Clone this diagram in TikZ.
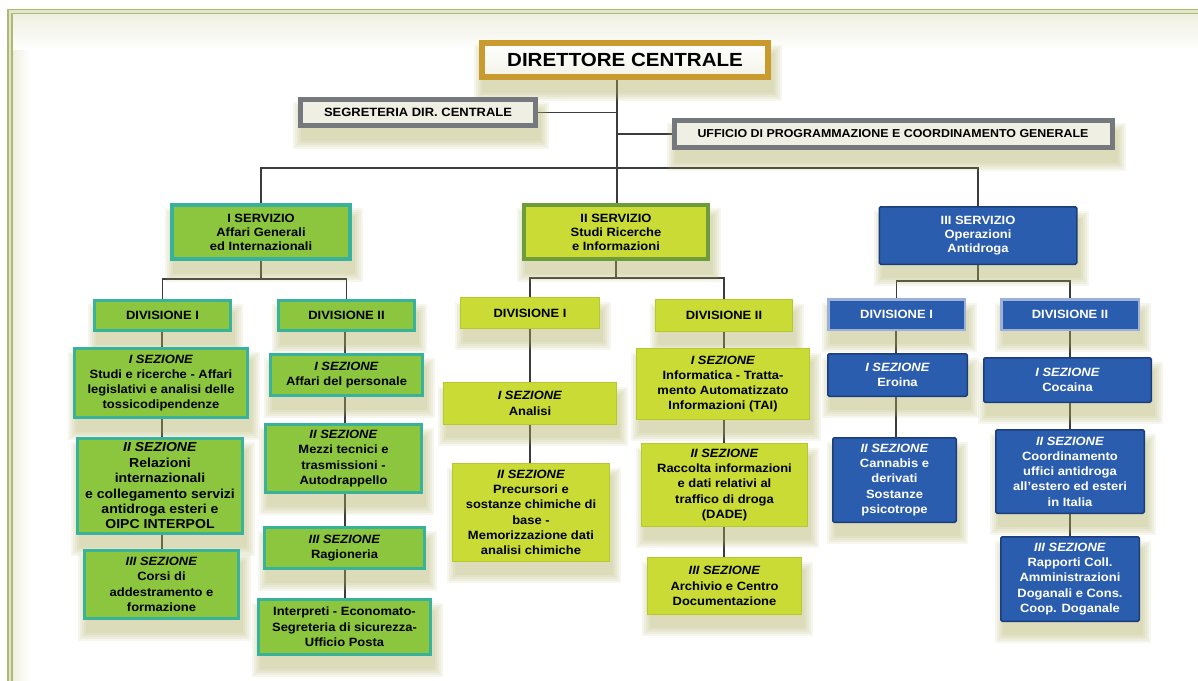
\documentclass[tikz,border=0pt]{standalone}
\usepackage{fontspec}
\setmainfont{Liberation Sans}[FakeStretch=1.08]
\usetikzlibrary{backgrounds}
\pgfdeclarelayer{shadow}
\pgfsetlayers{background,shadow,main}
\definecolor{gfill}{HTML}{8CC63E}
\definecolor{gbord}{HTML}{38B29A}
\definecolor{yfill}{HTML}{CADB36}
\definecolor{ybord}{HTML}{B4C92E}
\definecolor{ysbord}{HTML}{6E9C3A}
\definecolor{bfill}{HTML}{2B5DAE}
\definecolor{bbord}{HTML}{1C3D7C}
\definecolor{bdivbord}{HTML}{9DB0DA}
\definecolor{dirbord}{HTML}{C99A2E}
\definecolor{dirfill}{HTML}{F4F3E8}
\definecolor{grbord}{HTML}{75787C}
\definecolor{grfill}{HTML}{EFEFE4}
\definecolor{linec}{HTML}{3C3C3C}
\definecolor{framec}{HTML}{B0B878}
\definecolor{framel}{HTML}{E2E6C8}
\definecolor{bandc}{HTML}{EFEFE0}
\definecolor{shc}{HTML}{B0B060}
\tikzset{
  box/.style={rectangle, inner sep=1pt, align=center, text=black,
              font=\bfseries\fontsize{12}{15.3}\selectfont},
  gbox/.style={box, fill=gfill, draw=gbord, line width=3pt},
  ybox/.style={box, fill=yfill, draw=ybord, line width=1.2pt},
  ysbox/.style={box, fill=yfill, draw=ysbord, line width=4pt},
  bbox/.style={box, fill=bfill, draw=bbord, line width=1.5pt, text=white, rounded corners=1.5pt},
  bdiv/.style={box, fill=bfill, draw=bdivbord, line width=2.5pt, text=white},
  servfont/.style={font=\bfseries\fontsize{12}{14}\selectfont},
  dirbox/.style={box, draw=dirbord, line width=6pt, top color=white, bottom color=dirfill, font=\bfseries\fontsize{19}{22}\selectfont},
  grbox/.style={box, fill=grfill, draw=grbord, line width=5pt},
  conn/.style={draw=linec, line width=1.3pt},
  shadefill/.style={fill=shc, opacity=0.1},
}
\begin{document}
\begin{tikzpicture}[x=1pt,y=-1pt]
\useasboundingbox (0,0) rectangle (1198,680);

% top level
\node[dirbox, minimum width=286, minimum height=34] (dir) at (625,60) {DIRETTORE CENTRALE};
\node[grbox, minimum width=235, minimum height=26, font=\bfseries\fontsize{12}{14}\selectfont] (seg) at (418,112.5) {SEGRETERIA DIR. CENTRALE};
\node[grbox, minimum width=438, minimum height=27, font=\bfseries\fontsize{11.5}{14}\selectfont] (uff) at (893,134) {UFFICIO DI PROGRAMMAZIONE E COORDINAMENTO GENERALE};

% servizi
\node[gbox, servfont, line width=4pt, minimum width=178, minimum height=54] (s1) at (261,232) {I SERVIZIO\\Affari Generali\\ed Internazionali};
\node[ysbox, servfont, minimum width=184, minimum height=54] (s2) at (616,232) {II SERVIZIO\\Studi Ricerche\\e Informazioni};
\node[bbox, servfont, minimum width=197.5, minimum height=57.5] (s3) at (978,235.5) {III SERVIZIO\\Operazioni\\Antidroga};

% divisioni
\node[gbox, minimum width=136, minimum height=30] (d11) at (162.5,315) {DIVISIONE I};
\node[gbox, minimum width=136, minimum height=30] (d12) at (346.5,315.5) {DIVISIONE II};
\node[ybox, minimum width=139, minimum height=31] (d21) at (530,313) {DIVISIONE I};
\node[ybox, minimum width=137, minimum height=32] (d22) at (724,315.5) {DIVISIONE II};
\node[bdiv, minimum width=136.5, minimum height=30.5] (d31) at (896.5,314.5) {DIVISIONE I};
\node[bdiv, minimum width=137.5, minimum height=30.5] (d32) at (1070,314.5) {DIVISIONE II};

% sezioni col 1
\node[gbox, minimum width=173, minimum height=69] (a1) at (161,383) {\textit{I SEZIONE}\\Studi e ricerche - Affari\\legislativi e analisi delle\\tossicodipendenze};
\node[gbox, minimum width=165, minimum height=95, font=\bfseries\fontsize{13}{15.4}\selectfont] (a2) at (160,486) {\textit{II SEZIONE}\\Relazioni\\internazionali\\e collegamento servizi\\antidroga esteri e\\OIPC INTERPOL};
\node[gbox, minimum width=154, minimum height=68] (a3) at (161.5,584.5) {\textit{III SEZIONE}\\Corsi di\\addestramento e\\formazione};
% col 2
\node[gbox, minimum width=152, minimum height=41] (b1) at (346.5,375) {\textit{I SEZIONE}\\Affari del personale};
\node[gbox, minimum width=156, minimum height=68] (b2) at (343.5,458.5) {\textit{II SEZIONE}\\Mezzi tecnici e\\trasmissioni -\\Autodrappello};
\node[gbox, minimum width=160, minimum height=41] (b3) at (344.5,548) {\textit{III SEZIONE}\\Ragioneria};
\node[gbox, minimum width=172, minimum height=55] (b4) at (344.5,627) {Interpreti - Economato-\\Segreteria di sicurezza-\\Ufficio Posta};
% col 3
\node[ybox, minimum width=173, minimum height=42] (c1) at (530,403.5) {\textit{I SEZIONE}\\Analisi};
\node[ybox, minimum width=157, minimum height=98] (c2) at (531,512.5) {\textit{II SEZIONE}\\Precursori e\\sostanze chimiche di\\base -\\Memorizzazione dati\\analisi chimiche};
% col 4
\node[ybox, minimum width=173, minimum height=71] (e1) at (723,384) {\textit{I SEZIONE}\\Informatica - Tratta-\\mento Automatizzato\\Informazioni (TAI)};
\node[ybox, minimum width=166, minimum height=83] (e2) at (724.5,485) {\textit{II SEZIONE}\\Raccolta informazioni\\e dati relativi al\\traffico di droga\\(DADE)};
\node[ybox, minimum width=154, minimum height=57] (e3) at (724.5,586) {\textit{III SEZIONE}\\Archivio e Centro\\Documentazione};
% col 5
\node[bbox, minimum width=139.5, minimum height=42.5] (f1) at (897.5,375) {\textit{I SEZIONE}\\Eroina};
\node[bbox, minimum width=123.5, minimum height=84.5] (f2) at (894.5,480) {\textit{II SEZIONE}\\Cannabis e\\derivati\\Sostanze\\psicotrope};
% col 6
\node[bbox, minimum width=167.5, minimum height=44.5] (g1) at (1067.5,380) {\textit{I SEZIONE}\\Cocaina};
\node[bbox, minimum width=148.5, minimum height=83.5] (g2) at (1070,471.5) {\textit{II SEZIONE}\\Coordinamento\\uffici antidroga\\all'estero ed esteri\\in Italia};
\node[bbox, minimum width=138.5, minimum height=84.5] (g3) at (1070,579) {\textit{III SEZIONE}\\Rapporti Coll.\\Amministrazioni\\Doganali e Cons.\\Coop. Doganale};

% junction coordinates
\coordinate (tr) at (617,168);
\coordinate (j1) at (261,279);
\coordinate (j2) at (616,278);
\coordinate (j3) at (978,281);
\coordinate (x1) at (162,0);
\coordinate (x2) at (345,0);
\coordinate (x3) at (530,0);
\coordinate (x4) at (724,0);
\coordinate (x5) at (896,0);
\coordinate (x6) at (1070,0);

% soft shadows
\begin{pgfonlayer}{shadow}
\foreach \n in {dir,seg,uff,s1,s2,s3,d11,d12,d21,d22,d31,d32,a1,a2,a3,b1,b2,b3,b4,c1,c2,e1,e2,e3,f1,f2,g1,g2,g3}{
  \foreach \k in {0,2,4,6,8}{
    \fill[shadefill] ([xshift={3pt-\k pt},yshift={-13pt-\k pt}]\n.south west) rectangle ([xshift={3pt+\k pt},yshift={-13pt+\k pt}]\n.north east);
  }
}
\end{pgfonlayer}

\begin{pgfonlayer}{background}
\fill[white] (0,0) rectangle (1198,680);
\shade[top color=bandc, bottom color=white] (12,14) rectangle (1198,50);
\shade[left color=bandc, right color=white] (12,50) rectangle (30,680);
\draw[draw=framec, double=framel, double distance=2.4pt, line width=1.6pt] (10,700) -- (10,11.5) -- (1215,11.5);
\draw[conn] (dir.south -| tr) -- (s2.north -| tr);
\draw[conn] (seg.east) -- (seg.east -| tr);
\draw[conn] (uff.west) -- (uff.west -| tr);
\draw[conn] (s1.north) -- (s1.north |- tr) -- (s3.north |- tr) -- (s3.north);
\draw[conn] (s1.south) -- (j1);
\draw[conn] (d11.north) |- (j1) -| (d12.north);
\draw[conn] (s2.south) -- (j2);
\draw[conn] (d21.north) |- (j2) -| (d22.north);
\draw[conn] (s3.south) -- (j3);
\draw[conn] (d31.north) |- (j3) -| (d32.north);
% column 1
\draw[conn] (d11.south -| x1) -- (a1.north -| x1);
\draw[conn] (a1.south -| x1) -- (a2.north -| x1);
\draw[conn] (a2.south -| x1) -- (a3.north -| x1);
% column 2
\draw[conn] (d12.south -| x2) -- (b1.north -| x2);
\draw[conn] (b1.south -| x2) -- (b2.north -| x2);
\draw[conn] (b2.south -| x2) -- (b3.north -| x2);
\draw[conn] (b3.south -| x2) -- (b4.north -| x2);
% column 3
\draw[conn] (d21.south -| x3) -- (c1.north -| x3);
\draw[conn] (c1.south -| x3) -- (c2.north -| x3);
% column 4
\draw[conn] (d22.south -| x4) -- (e1.north -| x4);
\draw[conn] (e1.south -| x4) -- (e2.north -| x4);
\draw[conn] (e2.south -| x4) -- (e3.north -| x4);
% column 5
\draw[conn] (d31.south -| x5) -- (f1.north -| x5);
\draw[conn] (f1.south -| x5) -- (f2.north -| x5);
% column 6
\draw[conn] (d32.south -| x6) -- (g1.north -| x6);
\draw[conn] (g1.south -| x6) -- (g2.north -| x6);
\draw[conn] (g2.south -| x6) -- (g3.north -| x6);
\end{pgfonlayer}
\end{tikzpicture}
\end{document}
